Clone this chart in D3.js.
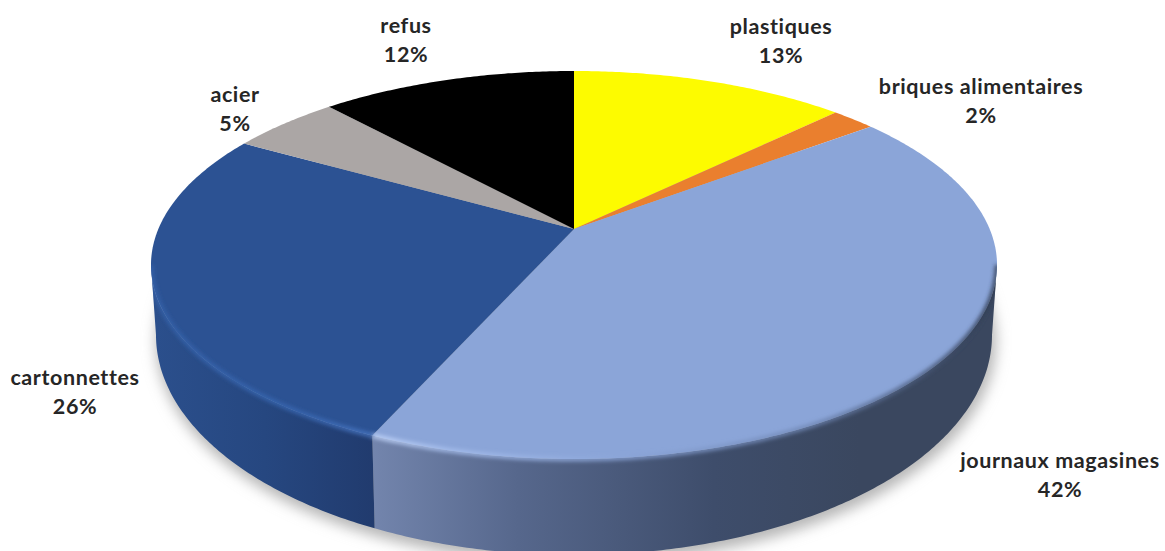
<!DOCTYPE html>
<meta charset="utf-8">
<style>
html, body { margin: 0; background: #fff; overflow: hidden; }
svg { display: block; }
.label { font-family: Lato, "Noto Sans", sans-serif; font-weight: 700; font-size: 21.5px; letter-spacing: 0.6px; fill: #262626; text-anchor: middle; }
</style>
<svg width="1165" height="551"></svg>
<script src="https://d3js.org/d3.v7.min.js"></script>
<script>

// clockwise from 12 o'clock
const categories = ["plastiques", "briques alimentaires", "journaux magasines", "cartonnettes", "acier", "refus"];
// shares are measured from the slice edges, shareLabels is what the chart prints
const shares = [12.6, 2.0, 42.0, 26.7, 5.0, 11.7];
const shareLabels = ["13%", "2%", "42%", "26%", "5%", "12%"];
const colours = ["#fdfb00", "#ea7f2e", "#8ba5d8", "#2c5293", "#aba6a5", "#000000"];

// label centres, same order as categories
const labelX = [781, 981, 1060, 75, 235, 406];
const labelY = [27, 87, 461, 378, 95, 26];

const svg = d3.select("svg");
const defs = svg.append("defs");

// the chart is a tilted disc, so the centre of the pie is not the centre of the ellipse.
// tilt is the perspective factor, found by fitting the rim
const tilt = -0.1856;
const cx = 574;
const topRim = {rx: 423, ry: 194, cy: 265};
const bottomRim = {rx: 418, ry: 220, cy: 335};

// angles where the rim reaches its widest point, the wall stops there
const frontStart = Math.acos(tilt);
const frontEnd = 2 * Math.PI - frontStart;

function project(rim, angle) {
  const u = Math.sin(angle), v = -Math.cos(angle);
  const a = rim.rx * Math.sqrt(1 - tilt * tilt);
  const b = rim.ry * (1 - tilt * tilt);
  const y0 = rim.cy + tilt * rim.ry;
  const w = 1 + tilt * v;
  return [cx + a * u / w, y0 + b * v / w];
}

function arcPoints(rim, a0, a1) {
  const n = Math.max(2, Math.ceil(Math.abs(a1 - a0) / 0.01));
  return d3.range(n + 1).map(i => project(rim, a0 + (a1 - a0) * i / n));
}

const line = d3.line();
const slices = d3.pie().sort(null).value(d => d)(shares);

function blur(id, dev) {
  defs.append("filter").attr("id", id)
    .attr("x", "-10%").attr("y", "-10%").attr("width", "120%").attr("height", "120%")
    .append("feGaussianBlur").attr("stdDeviation", dev);
}
blur("soft", 7);
blur("bevel", 2);

function hGradient(id, x1, x2, stops) {
  const g = defs.append("linearGradient").attr("id", id)
    .attr("gradientUnits", "userSpaceOnUse")
    .attr("x1", x1).attr("x2", x2).attr("y1", 0).attr("y2", 0);
  stops.forEach(s => g.append("stop").attr("offset", s[0]).attr("stop-color", s[1]));
}
hGradient("wallLight", 372, 860, [[0, "#7385ad"], [0.3, "#56678c"], [0.7, "#3e4d6b"], [1, "#3a475f"]]);
hGradient("wallDark", 155, 375, [[0, "#2b4f8c"], [0.5, "#264780"], [1, "#213b6e"]]);
hGradient("rimLight", 372, 997, [[0, "#c3d6fa"], [0.12, "#a8c0ee"], [0.4, "#8ba5d8"], [0.7, "#7087b4"], [1, "#2e3a50"]]);
hGradient("rimDark", 152, 375, [[0, "#3562aa"], [0.7, "#3a69b4"], [1, "#4a78c4"]]);

function frontRange(s) {
  return [Math.max(s.startAngle, frontStart), Math.min(s.endAngle, frontEnd)];
}

function wallPath(s) {
  const r = frontRange(s);
  return line(arcPoints(topRim, r[0], r[1]).concat(arcPoints(bottomRim, r[1], r[0]))) + "Z";
}

// soft shadow under the disc
svg.append("ellipse")
  .attr("cx", cx + 2).attr("cy", bottomRim.cy + 6)
  .attr("rx", bottomRim.rx + 2).attr("ry", bottomRim.ry + 2)
  .attr("fill", "#b5b5b5")
  .attr("filter", "url(#soft)");

// side wall, only the two front slices show it
const walls = [{i: 2, fill: "url(#wallLight)"}, {i: 3, fill: "url(#wallDark)"}];
walls.forEach(w => {
  svg.append("path").attr("d", wallPath(slices[w.i])).attr("fill", w.fill);
});

// top face
const apex = [cx, topRim.cy + tilt * topRim.ry];
svg.selectAll(".slice")
  .data(slices)
  .enter().append("path")
    .attr("class", "slice")
    .attr("fill", (d, i) => colours[i])
    .attr("d", d => line([apex].concat(arcPoints(topRim, d.startAngle, d.endAngle))) + "Z");

// keeps the blurred bevel inside the disc outline
const clip = defs.append("clipPath").attr("id", "disc");
clip.append("ellipse").attr("cx", cx).attr("cy", topRim.cy).attr("rx", topRim.rx).attr("ry", topRim.ry);
walls.forEach(w => clip.append("path").attr("d", wallPath(slices[w.i])));

// rounded bevel along the front rim
const rims = [{i: 2, stroke: "url(#rimLight)"}, {i: 3, stroke: "url(#rimDark)"}];
const bevel = svg.append("g").attr("clip-path", "url(#disc)");
rims.forEach(b => {
  const r = frontRange(slices[b.i]);
  bevel.append("path")
    .attr("d", line(arcPoints(topRim, r[0], r[1])))
    .attr("fill", "none")
    .attr("stroke", b.stroke)
    .attr("stroke-width", 4)
    .attr("filter", "url(#bevel)");
});

// labels, name on top and share below
const labels = svg.selectAll(".label")
  .data(categories)
  .enter().append("g")
    .attr("transform", (d, i) => "translate(" + labelX[i] + "," + labelY[i] + ")");

labels.append("text").attr("class", "label").attr("dy", "0.32em").text(d => d);
labels.append("text").attr("class", "label").attr("y", 29.5).attr("dy", "0.32em")
  .text((d, i) => shareLabels[i]);

</script>
